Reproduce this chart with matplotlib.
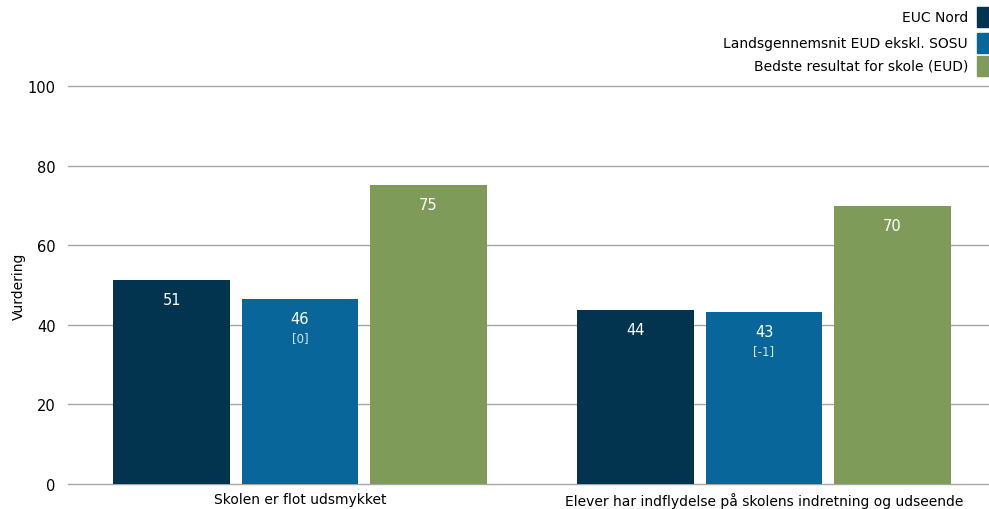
import matplotlib.pyplot as plt
import numpy as np
from matplotlib.patches import Rectangle

categories = ["Skolen er flot udsmykket",
              "Elever har indflydelse på skolens indretning og udseende"]
series_names = ["EUC Nord", "Landsgennemsnit EUD ekskl. SOSU",
                "Bedste resultat for skole (EUD)"]
euc_nord = [51.3, 43.7]
landsgennemsnit = [46.5, 43.2]
bedste = [75.1, 69.8]
labels_euc = ["51", "44"]
labels_lands = ["46", "43"]
labels_bedste = ["75", "70"]
diff_lands = ["[0]", "[-1]"]

colors = ["#02344F", "#09669B", "#7F9B59"]

plt.rcParams['font.family'] = ['DejaVu Sans']
fs = 10

fig = plt.figure(figsize=(9.89, 5.10), dpi=100)
ax = fig.add_axes([68 / 989, 1 - 485 / 510, 1 - 68 / 989, (485 - 87) / 510])

x = np.arange(len(categories))
width = 0.252
step = 0.276
all_vals = [euc_nord, landsgennemsnit, bedste]
all_labels = [labels_euc, labels_lands, labels_bedste]

for i, (vals, labs) in enumerate(zip(all_vals, all_labels)):
    pos = x + (i - 1) * step
    bars = ax.bar(pos, vals, width, color=colors[i], zorder=2)
    for rect, lab in zip(bars, labs):
        ax.annotate(lab, xy=(rect.get_x() + rect.get_width() / 2, rect.get_height()),
                    xytext=(0, -14), textcoords="offset points",
                    ha='center', va='center', color='white', fontsize=10.5)
    if i == 1:
        for rect, d in zip(bars, diff_lands):
            ax.annotate(d, xy=(rect.get_x() + rect.get_width() / 2, rect.get_height()),
                        xytext=(0, -28), textcoords="offset points",
                        ha='center', va='center', color='#D8E4EE', fontsize=8.5)

ax.set_xlim(-0.5, 1 + (989 - 764) / 464)
ax.set_ylim(0, 100)
ax.set_yticks([0, 20, 40, 60, 80, 100])
ax.yaxis.grid(True, color='#A6A6A6', linewidth=1, zorder=0)
for gl in ax.get_ygridlines():
    gl.set_clip_on(False)
ax.set_axisbelow(True)
for s in ax.spines.values():
    s.set_visible(False)
ax.tick_params(axis='both', length=0, labelsize=fs, colors='black')
ax.tick_params(axis='y', pad=9, labelsize=10.5)
ax.tick_params(axis='x', pad=6)
ax.set_xticks(x)
ax.set_xticklabels(categories)
ax.set_ylabel("Vurdering", fontsize=fs)
ax.yaxis.set_label_coords(-0.046, 0.5)

# legend at top right
rows_y = [18, 44, 67]
for name, c, yy in zip(series_names, colors, rows_y):
    fig.text(968 / 989, 1 - yy / 510, name, ha='right', va='center', fontsize=fs)
    fig.patches.append(Rectangle((977 / 989, 1 - (yy + 10) / 510), 12 / 989, 20 / 510,
                                 transform=fig.transFigure, color=c, figure=fig))

fig.savefig("out.png", dpi=100)
